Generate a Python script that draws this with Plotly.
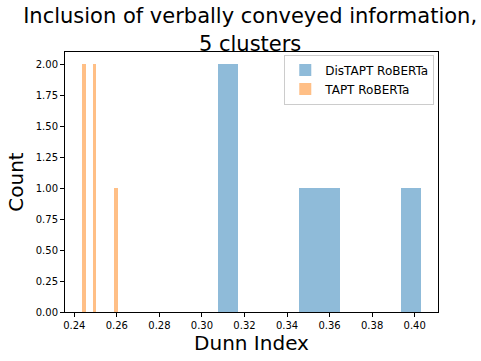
import numpy as np
import plotly.graph_objects as go

# Dunn index per run, five clusters
distapt_roberta = [0.3076, 0.3110, 0.3500, 0.3580, 0.4030]
tapt_roberta = [0.2436, 0.2445, 0.2490, 0.2498, 0.2604]

series_names = ["DisTAPT RoBERTa", "TAPT RoBERTa"]
series_colors = ["rgba(31,119,180,0.5)", "rgba(255,127,14,0.5)"]
n_bins = 10

fig = go.Figure()
for name, values, color in zip(series_names, [distapt_roberta, tapt_roberta], series_colors):
    counts, edges = np.histogram(values, bins=n_bins)
    widths = np.diff(edges)
    fig.add_trace(go.Bar(
        x=edges[:-1], y=counts, width=widths, offset=0,
        name=name, marker=dict(color=color, line=dict(width=0)),
        hovertemplate="%{x:.3f}: %{y}<extra></extra>",
    ))

all_vals = distapt_roberta + tapt_roberta
lo, hi = min(all_vals), max(all_vals)
pad = 0.05 * (hi - lo)

axis_common = dict(
    showline=True, linecolor="black", linewidth=1, mirror=True,
    ticks="outside", ticklen=4, tickcolor="black", showgrid=False, zeroline=False,
    tickfont=dict(size=10, color="black"),
)

fig.update_layout(
    barmode="overlay", bargap=0,
    width=481, height=361,
    margin=dict(l=65, r=43, t=52, b=45),
    plot_bgcolor="white", paper_bgcolor="white",
    font=dict(family="DejaVu Sans", color="black"),
    title=dict(
        text="Inclusion of verbally conveyed information,<br>5 clusters",
        font=dict(size=21), x=0.52, xref="container", xanchor="center",
        y=0.935, yref="container", yanchor="top",
    ),
    xaxis=dict(range=[lo - pad, hi + pad], tick0=0.24, dtick=0.02, tickformat=".2f",
               title=dict(text="Dunn Index", font=dict(size=20), standoff=4), **axis_common),
    yaxis=dict(range=[0, 2.1], tick0=0, dtick=0.25, tickformat=".2f",
               title=dict(text="Count", font=dict(size=20), standoff=6), **axis_common),
    legend=dict(x=0.99, y=0.99, xanchor="right", yanchor="top",
                bordercolor="#cccccc", borderwidth=1, bgcolor="rgba(255,255,255,0.8)",
                font=dict(size=12), tracegroupgap=0),
    showlegend=True,
)

fig.write_html("out.html")
